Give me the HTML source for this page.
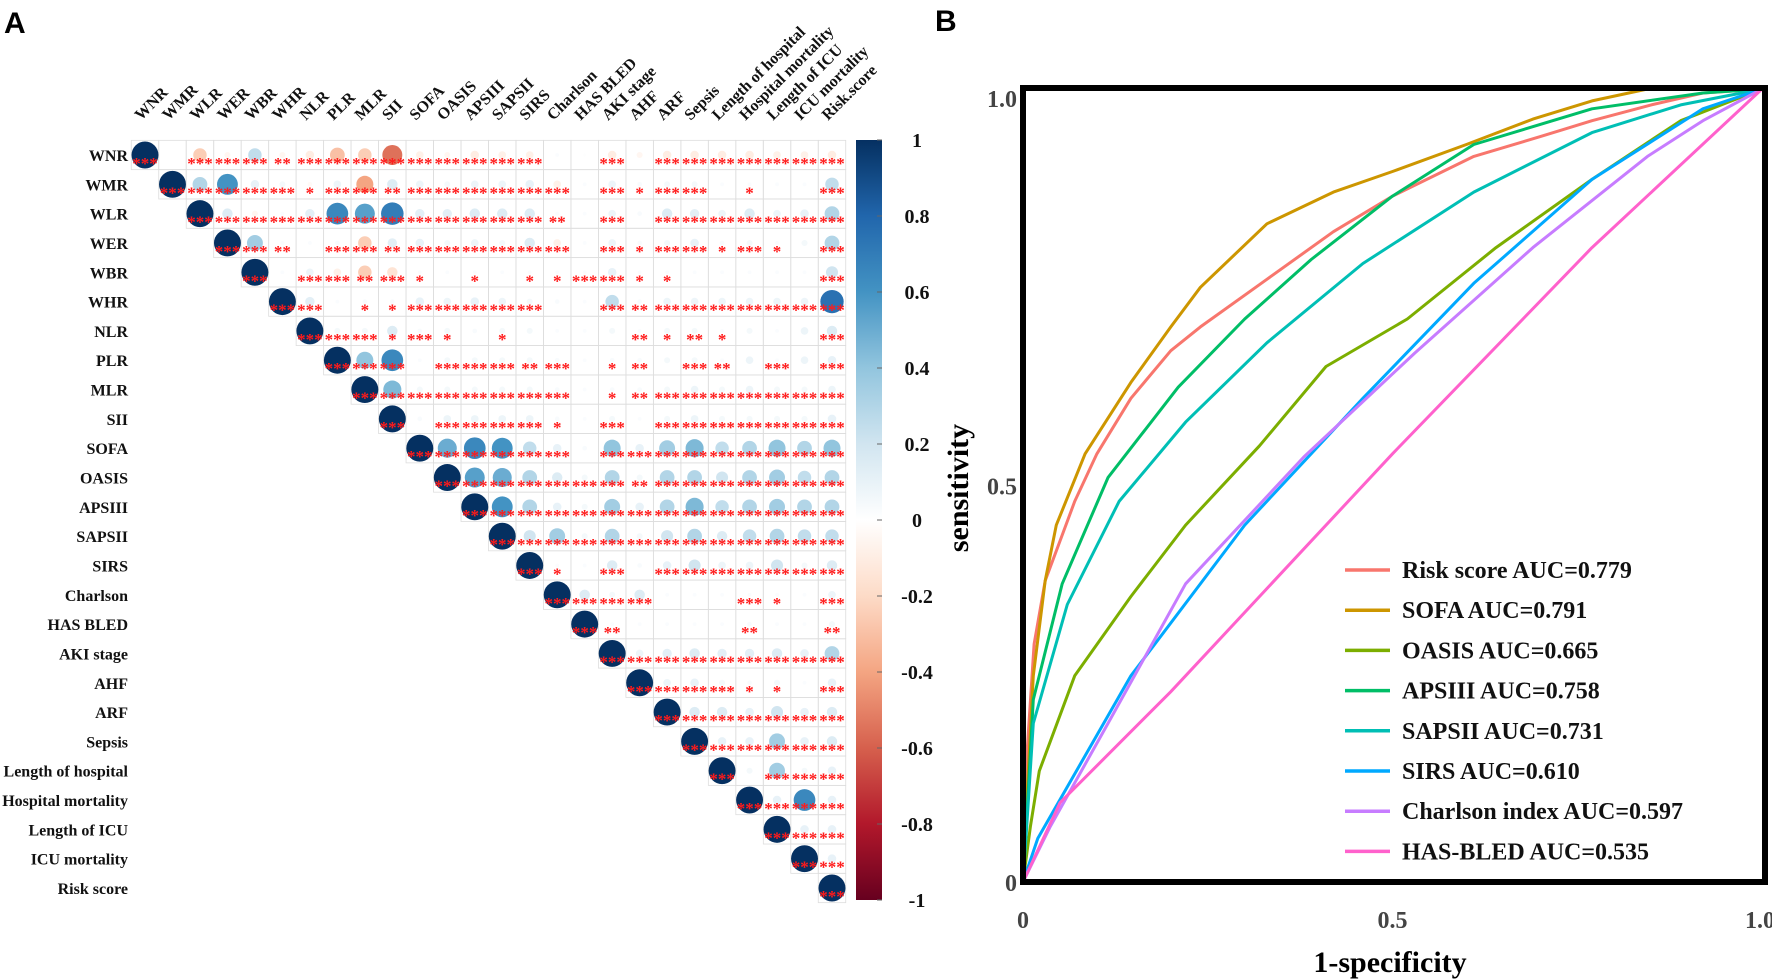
<!DOCTYPE html>
<html><head><meta charset="utf-8"><style>
html,body{margin:0;padding:0;background:#fff;}
svg{display:block;}
text{font-family:"Liberation Serif",serif;}
</style></head><body>
<svg id="fig" width="1772" height="980" viewBox="0 0 1772 980" xmlns="http://www.w3.org/2000/svg">
<rect x="0" y="0" width="1772" height="980" fill="#ffffff"/>
<text x="4" y="33" style="font-family:'Liberation Sans',sans-serif;font-weight:bold;font-size:30px">A</text>
<text x="935" y="31" style="font-family:'Liberation Sans',sans-serif;font-weight:bold;font-size:30px">B</text>
<g id="corr"></g>
<g id="cbar"></g>
<g id="roc"></g>
</svg>
<script>
// ---------- Panel A data ----------
const vars = ["WNR","WMR","WLR","WER","WBR","WHR","NLR","PLR","MLR","SII","SOFA","OASIS","APSIII","SAPSII","SIRS","Charlson","HAS BLED","AKI stage","AHF","ARF","Sepsis","Length of hospital","Hospital mortality","Length of ICU","ICU mortality","Risk score"];
const colLabels = ["WNR","WMR","WLR","WER","WBR","WHR","NLR","PLR","MLR","SII","SOFA","OASIS","APSIII","SAPSII","SIRS","Charlson","HAS BLED","AKI stage","AHF","ARF","Sepsis","Length of hospital","Hospital mortality","Length of ICU","ICU mortality","Risk.score"];
// upper-triangle correlations, row i lists columns i+1..25
const corrRows = [
 [0,-0.25,-0.05,0.25,-0.05,-0.1,-0.3,-0.25,-0.55,-0.08,-0.05,-0.1,-0.08,-0.08,0.02,0.01,-0.1,-0.05,-0.1,-0.1,-0.1,-0.1,-0.08,-0.08,-0.1],
 [0.3,0.6,0.1,0.05,-0.03,0.08,-0.4,0.15,0.08,0.05,0.08,0.08,0.1,-0.08,0.02,0.08,0.03,0.05,0.05,0.02,0.02,0.02,0.02,0.25],
 [0.15,-0.05,0.02,0.12,0.65,0.55,0.7,0.12,0.12,0.15,0.15,0.15,0.02,0.02,0.08,0.03,0.15,0.12,0.08,0.15,0.08,0.1,0.3],
 [0.35,0.02,0.02,0.03,-0.25,0.12,0.1,0.05,0.08,0.05,0.15,-0.08,0.02,0.08,0.03,0.05,0.1,0.03,0.05,0.02,0.05,0.3],
 [0.02,0.08,-0.08,-0.25,-0.15,0.02,0.02,0.02,0.02,0.02,0.02,0.02,0.1,0.02,0.02,0.02,0.02,0.02,0.02,0.02,0.2],
 [0.12,0.02,0.03,0.03,0.1,0.08,0.1,0.08,0.05,0.03,0.02,0.25,0.03,0.08,0.08,0.08,0.08,0.08,0.08,0.75],
 [0.05,0.05,0.15,0.03,0.05,0.03,0.05,0.05,0.02,0.02,0.05,0.02,0.05,0.05,0.02,0.05,0.02,0.08,0.15],
 [0.4,0.65,0.02,0.05,0.05,0.05,0.05,0.03,0.02,0.03,0.03,0.05,0.05,0.02,0.08,0.02,0.08,0.1],
 [0.45,0.05,0.05,0.05,0.05,0.05,0.03,0.02,0.03,0.03,0.05,0.08,0.05,0.08,0.05,0.05,0.08],
 [0.03,0.08,0.08,0.08,0.08,0.03,0.02,0.05,0.02,0.05,0.08,0.05,0.05,0.05,0.05,0.1],
 [0.5,0.65,0.6,0.25,0.1,0.03,0.4,0.1,0.35,0.45,0.25,0.3,0.4,0.3,0.4],
 [0.55,0.5,0.3,0.15,0.05,0.3,0.05,0.3,0.3,0.2,0.3,0.35,0.25,0.3],
 [0.6,0.3,0.1,0.05,0.35,0.1,0.3,0.45,0.25,0.3,0.35,0.3,0.3],
 [0.2,0.35,0.05,0.3,0.05,0.2,0.3,0.15,0.25,0.3,0.25,0.25],
 [0.02,0.02,0.15,0.03,0.1,0.2,0.08,0.08,0.2,0.05,0.15],
 [0.15,0.05,0.15,0.02,0.02,0.02,0.02,0.02,0.02,0.08],
 [0.02,0.02,0.02,0.02,0.02,0.03,0.02,0.02,0.05],
 [0.08,0.12,0.15,0.12,0.12,0.15,0.1,0.3],
 [0.08,0.1,0.05,0.03,0.05,0.02,0.1],
 [0.15,0.15,0.1,0.2,0.1,0.15],
 [0.1,0.1,0.35,0.1,0.15],
 [0.05,0.35,0.05,0.1],
 [0.1,0.65,0.1],
 [0.1,0.1],
 [0.1]
];
// significance level (number of stars) per upper-triangle cell
const sigRows = [
 "0333233333333300303333333",
 "333313323333330313301003".padEnd(24,"3"),
 "33333333333320303333333",
 "3203323333330313313103"+"",
 "033231010113311000003",
 "30113333300323333333",
 "3313101000021210003",
 "330333230120320303",
 "33333330123333333",
 "0333310303333333",
 "333330333333333",
 "33333323333333",
 "3333333333333",
 "333333333333",
 "10303333333",
 "3330003103",
 "200002002",
 "33333333",
 "3331103",
 "333333",
 "33333",
 "0333",
 "333",
 "33",
 "3"
];
const cbTicks = [1,0.8,0.6,0.4,0.2,0,-0.2,-0.4,-0.6,-0.8,-1];

// ---------- Panel B data ----------
const rocNames = ["Risk score","SOFA","OASIS","APSIII","SAPSII","SIRS","Charlson index","HAS-BLED"];
const rocAUC = ["0.779","0.791","0.665","0.758","0.731","0.610","0.597","0.535"];
const rocColors = ["#F8766D","#CD9600","#7CAE00","#00BE67","#00BFB5","#00A9FF","#C77CFF","#FF61CC"];
const fprRisk = [0,0.003,0.006,0.015,0.03,0.05,0.07,0.1,0.146,0.2,0.24,0.33,0.42,0.5,0.61,0.7,0.77,0.85,0.92,1];
const tprRisk = [0,0.1,0.17,0.3,0.38,0.43,0.48,0.54,0.61,0.67,0.70,0.76,0.82,0.865,0.915,0.94,0.96,0.98,0.995,1];
const fprSofa = [0,0.005,0.014,0.03,0.045,0.084,0.146,0.2,0.24,0.33,0.42,0.5,0.6,0.69,0.77,0.845,1];
const tprSofa = [0,0.1,0.26,0.38,0.45,0.54,0.63,0.70,0.75,0.83,0.87,0.896,0.93,0.962,0.985,1.0,1];
const fprOasis = [0,0.01,0.022,0.07,0.146,0.22,0.32,0.41,0.52,0.64,0.77,0.89,1];
const tprOasis = [0,0.07,0.14,0.26,0.36,0.45,0.55,0.65,0.71,0.80,0.886,0.96,1];
const fprAps = [0,0.005,0.014,0.053,0.115,0.21,0.30,0.39,0.5,0.61,0.77,0.92,1];
const tprAps = [0,0.08,0.23,0.376,0.51,0.624,0.71,0.785,0.865,0.93,0.975,0.995,1];
const fprSaps = [0,0.005,0.014,0.06,0.13,0.22,0.33,0.46,0.61,0.77,0.89,1];
const tprSaps = [0,0.07,0.20,0.35,0.48,0.58,0.68,0.78,0.87,0.945,0.98,1];
const fprSirs = [0,0.02,0.146,0.30,0.46,0.61,0.77,0.92,1];
const tprSirs = [0,0.055,0.26,0.45,0.61,0.755,0.886,0.975,1];
const fprChar = [0,0.037,0.115,0.22,0.38,0.53,0.69,0.845,0.92,1];
const tprChar = [0,0.07,0.20,0.376,0.536,0.667,0.80,0.915,0.96,1];
const fprHas = [0,0.05,0.2,0.5,0.77,1];
const tprHas = [0,0.1,0.24,0.54,0.8,1];
const rocFpr = [fprRisk,fprSofa,fprOasis,fprAps,fprSaps,fprSirs,fprChar,fprHas];
const rocTpr = [tprRisk,tprSofa,tprOasis,tprAps,tprSaps,tprSirs,tprChar,tprHas];
const rocTicks = [0,0.5,1];
const rocTickLabels = ["0","0.5","1.0"];

const NS = "http://www.w3.org/2000/svg";
function mk(tag, attrs, parent){ const e=document.createElementNS(NS,tag); for(const k in attrs) e.setAttribute(k,attrs[k]); parent.appendChild(e); return e; }

// colour scale (corrplot RdBu)
const pal = ["#67001F","#B2182B","#D6604D","#F4A582","#FDDBC7","#FFFFFF","#D1E5F0","#92C5DE","#4393C3","#2166AC","#053061"];
function hex2rgb(h){return [1,3,5].map(i=>parseInt(h.substr(i,2),16));}
function colorOf(v){
  const t=(v+1)/2*(pal.length-1); const i=Math.max(0,Math.min(pal.length-2,Math.floor(t))); const f=t-i;
  const a=hex2rgb(pal[i]), b=hex2rgb(pal[i+1]);
  return "rgb("+a.map((c,k)=>Math.round(c+(b[k]-c)*f)).join(",")+")";
}

// ---------- draw panel A ----------
const corr = document.getElementById("corr");
const x0=145, dx=27.48, y0=155, dy=29.32;
const colX = i => x0 + i*dx;
const rowY = i => y0 + i*dy;
const n = vars.length;
// grid
for(let i=0;i<n;i++){
  for(let j=i;j<n;j++){
    const r = mk("rect",{x:colX(j)-dx/2,y:rowY(i)-dy/2,width:dx,height:dy,fill:"none",stroke:"#dddddd","stroke-width":0.8},corr);
    
    
  }
}
// row labels
vars.forEach((v,i)=>{
  const t = mk("text",{x:128,y:rowY(i)+6,"text-anchor":"end","font-size":"16","font-weight":"bold",fill:"#111"},corr);
  t.textContent=v;
  
  
});
// column labels
colLabels.forEach((v,j)=>{
  const t = mk("text",{x:0,y:0,"font-size":"16","font-weight":"bold",fill:"#111",transform:"translate("+(colX(j)-4)+",121) rotate(-45)"},corr);
  t.textContent=v;
  
  
});
function cellValue(i,j){ return i===j?1:corrRows[i][j-i-1]; }
function cellSig(i,j){ if(i===j) return 3; const s=sigRows[i]||""; const c=s.charAt(j-i-1); return c?parseInt(c,10):0; }
for(let i=0;i<n;i++){
  for(let j=i;j<n;j++){
    const v=cellValue(i,j);
    const rad = Math.sqrt(Math.abs(v))*Math.min(dx,dy)*0.5*0.98;
    if(rad>0.3){
      const c = mk("circle",{cx:colX(j),cy:rowY(i),r:rad,fill:colorOf(v)},corr);
      
      
    }
    const s=cellSig(i,j);
    if(s>0){
      const t = mk("text",{x:colX(j),y:rowY(i)+14,"text-anchor":"middle","font-size":"17","font-weight":"bold",fill:"#ff1a1a","font-family":"Liberation Sans, sans-serif"},corr);
      t.textContent="*".repeat(s);
      
      
    }
  }
}
// colour bar
const cbar=document.getElementById("cbar");
const cbTop=140, cbBot=900, cbX=856, cbW=26;
const defs=mk("defs",{},cbar);
const grad=mk("linearGradient",{id:"cbg",x1:0,y1:0,x2:0,y2:1},defs);
pal.slice().reverse().forEach((c,k)=>mk("stop",{offset:(k/(pal.length-1)),"stop-color":c},grad));
const cbr = mk("rect",{x:cbX,y:cbTop,width:cbW,height:cbBot-cbTop,fill:"url(#cbg)"},cbar);


const cbY = v => cbTop + (1-v)/2*(cbBot-cbTop);
cbTicks.forEach(v=>{
  mk("line",{x1:cbX+cbW-5,x2:cbX+cbW,y1:cbY(v),y2:cbY(v),stroke:"#666","stroke-width":1},cbar);
  const t=mk("text",{x:917,y:cbY(v)+7,"text-anchor":"middle","font-size":"20","font-weight":"bold",fill:"#111"},cbar);
  t.textContent=String(v);
  
  
});

// ---------- draw panel B ----------
const roc=document.getElementById("roc");
const L=1023,R=1762,T=89,B=882;
const xS=f=>L+f*(R-L), yS=t=>B-t*(B-T);
rocFpr.forEach((fs,k)=>{
  const pts=fs.map((f,i)=>xS(f).toFixed(1)+","+yS(rocTpr[k][i]).toFixed(1)).join(" ");
  const p=mk("polyline",{points:pts,fill:"none",stroke:rocColors[k],"stroke-width":3,"stroke-linejoin":"round"},roc);
  
  
});
const fr=mk("rect",{x:L,y:T-1,width:R-L+3,height:B-T+1,fill:"none",stroke:"#000","stroke-width":6},roc);


rocTicks.forEach((v,i)=>{
  const tx=mk("text",{x:xS(v)+(i===2?-2:0),y:928,"text-anchor":"middle","font-size":"24","font-weight":"bold",fill:"#444"},roc);
  tx.textContent=rocTickLabels[i];
  
  
  const ty=mk("text",{x:1017,y:yS(v)+(i===2?18:9),"text-anchor":"end","font-size":"24","font-weight":"bold",fill:"#444"},roc);
  ty.textContent=rocTickLabels[i];
  
  
});
// legend
rocNames.forEach((nm,k)=>{
  const y=570+k*40.2;
  const l=mk("line",{x1:1345,x2:1390,y1:y,y2:y,stroke:rocColors[k],"stroke-width":3.5},roc);
  
  
  const t=mk("text",{x:1402,y:y+8,"font-size":"24","font-weight":"bold",fill:"#111"},roc);
  t.textContent=nm+" AUC="+rocAUC[k];
  
  
});
</script>
<text></text>
<svg width="0" height="0"></svg>
<div style="display:none"></div>
<script>
(function(){
 const svg=document.getElementById("fig");
 const NS="http://www.w3.org/2000/svg";
 const yt=document.createElementNS(NS,"text");
 yt.setAttribute("x","0");yt.setAttribute("y","0");
 yt.setAttribute("transform","translate(968,488) rotate(-90)");
 yt.setAttribute("text-anchor","middle");yt.setAttribute("font-size","30");yt.setAttribute("font-weight","bold");
 yt.textContent="sensitivity";
 
 
 svg.appendChild(yt);
 const xt=document.createElementNS(NS,"text");
 xt.setAttribute("x","1390");xt.setAttribute("y","972");
 xt.setAttribute("text-anchor","middle");xt.setAttribute("font-size","30");xt.setAttribute("font-weight","bold");
 xt.textContent="1-specificity";
 
 
 svg.appendChild(xt);
})();
</script>
</body></html>
